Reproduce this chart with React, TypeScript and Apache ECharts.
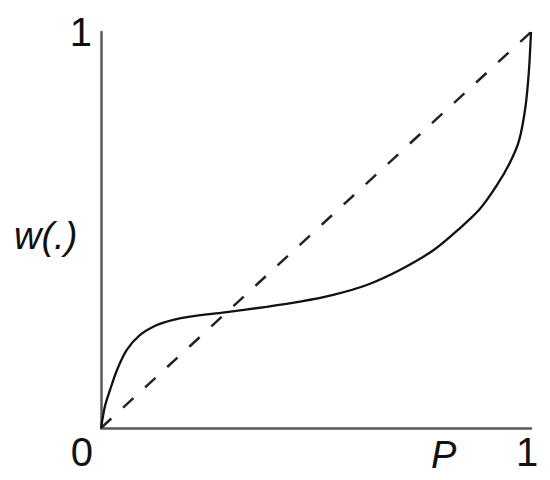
import React, { useEffect, useRef } from "react";
import * as echarts from "echarts";

// Probability weighting function w(P) (inverse-S shape)
const P_VALUES = [0, 0.009, 0.021, 0.037, 0.06, 0.091, 0.13, 0.168, 0.207, 0.288, 0.385, 0.463, 0.54, 0.618, 0.695, 0.773, 0.835, 0.881, 0.92, 0.95, 0.972, 0.987, 0.995, 1];
const W_VALUES = [0, 0.054, 0.096, 0.146, 0.197, 0.235, 0.26, 0.273, 0.281, 0.292, 0.306, 0.319, 0.336, 0.361, 0.399, 0.449, 0.505, 0.553, 0.612, 0.668, 0.725, 0.81, 0.9, 1];
// Diagonal reference line w = P
const DIAG_P = [0, 1];
const DIAG_W = [0, 1];
const X_TICKS = ["0", "1"];
const Y_TICKS = ["", "1"];
const X_NAME = "P";
const Y_NAME = "w(.)";

export default function App() {
  const ref = useRef<HTMLDivElement>(null);
  useEffect(() => {
    if (!ref.current) return;
    const chart = echarts.init(ref.current, null, { renderer: "svg" });
    const font = "'Liberation Sans', Arial, Helvetica, sans-serif";
    chart.setOption({
      animation: false,
      backgroundColor: "#ffffff",
      grid: { left: 101, top: 32, width: 430, height: 396, containLabel: false },
      xAxis: {
        type: "value",
        min: 0,
        max: 1,
        interval: 1,
        axisLine: { show: true, onZero: false, lineStyle: { color: "#5a5a5a", width: 2.5 } },
        axisTick: { show: false },
        splitLine: { show: false },
        axisLabel: {
          show: true,
          margin: 4,
          fontSize: 40,
          fontFamily: font,
          color: "#111",
          formatter: (v: number) => X_TICKS[Math.round(v)],
          alignMinLabel: "right",
          alignMaxLabel: "center",
          padding: [0, 8, 0, 0],
        },
      },
      yAxis: {
        type: "value",
        min: 0,
        max: 1,
        interval: 1,
        axisLine: { show: true, onZero: false, lineStyle: { color: "#5a5a5a", width: 2.5 } },
        axisTick: { show: false },
        splitLine: { show: false },
        axisLabel: {
          show: true,
          margin: 9,
          fontSize: 40,
          fontFamily: font,
          color: "#111",
          formatter: (v: number) => Y_TICKS[Math.round(v)],
        },
      },
      graphic: [
        {
          type: "text",
          left: 431,
          top: 436,
          style: { text: X_NAME, fontSize: 38, fontStyle: "italic", fontFamily: font, fill: "#111" },
        },
        {
          type: "text",
          left: 14,
          top: 217,
          style: { text: Y_NAME, fontSize: 38, fontStyle: "italic", fontFamily: font, fill: "#111" },
        },
      ],
      series: [
        {
          type: "line",
          data: DIAG_P.map((p, i) => [p, DIAG_W[i]]),
          showSymbol: false,
          symbol: "none",
          lineStyle: { color: "#222", width: 2.5, type: [14, 16] },
          z: 2,
        },
        {
          type: "line",
          data: P_VALUES.map((p, i) => [p, W_VALUES[i]]),
          showSymbol: false,
          symbol: "none",
          smooth: 0.3,
          lineStyle: { color: "#111", width: 2.3 },
          z: 3,
        },
      ],
    });
    return () => chart.dispose();
  }, []);
  return (
    <div
      ref={ref}
      style={{ position: "fixed", left: 0, top: 0, width: 550, height: 480 }}
    />
  );
}
